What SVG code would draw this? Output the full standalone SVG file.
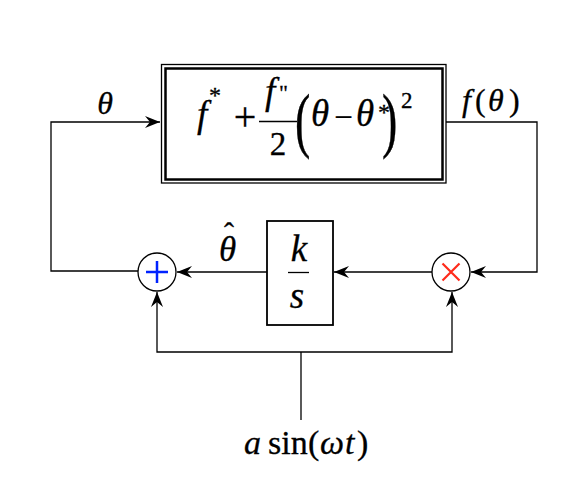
<svg xmlns="http://www.w3.org/2000/svg" width="588" height="487" viewBox="0 0 588 487">
<style>
.ln{stroke:#000;stroke-width:1.3;fill:none}
.bx{stroke:#000;fill:#fff}
</style>
<defs>
<marker id="ah" markerUnits="userSpaceOnUse" markerWidth="20" markerHeight="16" viewBox="-16 -8 17 16" refX="0" refY="0" orient="auto">
<path d="M0,0 L-15,-6 L-10,0 L-15,6 Z" fill="#000"/>
</marker>
</defs>
<rect width="588" height="487" fill="#fff"/>
<g id="connectors">
<path class="ln" d="M138,271 H51 V122 H160" marker-end="url(#ah)"/>
<path class="ln" d="M446,122 H537 V272 H471" marker-end="url(#ah)"/>
<path class="ln" d="M432,272 H334" marker-end="url(#ah)"/>
<path class="ln" d="M267,272 H177" marker-end="url(#ah)"/>
<path class="ln" d="M301,420 V352"/>
<path class="ln" d="M301,352 H157 V292" marker-end="url(#ah)"/>
<path class="ln" d="M301,352 H452 V292" marker-end="url(#ah)"/>
</g>
<g id="plant" font-family="Liberation Serif" stroke="#000" stroke-width="0.3">
<rect class="bx" x="161.5" y="64.5" width="284.5" height="118.5" stroke-width="1.3"/>
<rect class="bx" x="165.5" y="68.5" width="277" height="111" stroke-width="2.5"/>
<text font-style="italic" x="197" y="127" font-size="37">f</text>
<text x="209" y="103" font-size="24">*</text>
<text x="245" y="130" font-size="40" text-anchor="middle">+</text>
<text font-style="italic" x="265" y="104" font-size="37">f</text>
<text x="279" y="100" font-size="22">"</text>
<line class="ln" x1="259" y1="121.5" x2="297" y2="121.5" stroke-width="1.6"/>
<text x="278" y="155" font-size="33" text-anchor="middle">2</text>
<text x="295" y="0" font-size="46" transform="translate(0,144) scale(1,1.55)">(</text>
<text font-style="italic" x="311" y="126" font-size="37">θ</text>
<text x="343.5" y="128" font-size="33" text-anchor="middle">−</text>
<text font-style="italic" x="356" y="126" font-size="37">θ</text>
<text x="378" y="120" font-size="24">*</text>
<text x="382" y="0" font-size="46" transform="translate(0,144) scale(1,1.55)">)</text>
<text x="401" y="108" font-size="23">2</text>
</g>
<g id="integrator" font-family="Liberation Serif" stroke="#000" stroke-width="0.3">
<rect class="bx" x="267" y="221" width="66" height="104" stroke-width="1.8"/>
<text font-style="italic" x="299" y="261" font-size="37" text-anchor="middle">k</text>
<line class="ln" x1="288" y1="272.5" x2="309" y2="272.5"/>
<text font-style="italic" x="297" y="308" font-size="37" text-anchor="middle">s</text>
</g>
<g id="sum">
<circle cx="157" cy="272" r="19" fill="#fff" stroke="#000" stroke-width="1.3"/>
<path d="M146,272 H168 M157,261 V283" stroke="#0022ff" stroke-width="2.5" fill="none"/>
</g>
<g id="mult">
<circle cx="451" cy="272" r="19" fill="#fff" stroke="#000" stroke-width="1.3"/>
<path d="M442.5,263.5 L459.5,280.5 M459.5,263.5 L442.5,280.5" stroke="#ff2a1a" stroke-width="2.2" fill="none"/>
</g>
<g id="labels" font-family="Liberation Serif" stroke="#000" stroke-width="0.3">
<text font-style="italic" x="105" y="114" font-size="32" text-anchor="middle">θ</text>
<text font-size="32" y="111"><tspan font-style="italic" x="462">f</tspan><tspan x="475">(</tspan><tspan font-style="italic" x="488">θ</tspan><tspan x="509">)</tspan></text>
<text font-style="italic" x="227.5" y="261" font-size="35" text-anchor="middle">θ</text>
<text x="229" y="243" font-size="30" text-anchor="middle">ˆ</text>
<text font-size="34" y="454"><tspan font-style="italic" x="244">a</tspan><tspan x="268">sin</tspan><tspan x="308">(</tspan><tspan font-style="italic" x="320">ω</tspan><tspan font-style="italic" x="345">t</tspan><tspan x="357">)</tspan></text>
</g>
</svg>
